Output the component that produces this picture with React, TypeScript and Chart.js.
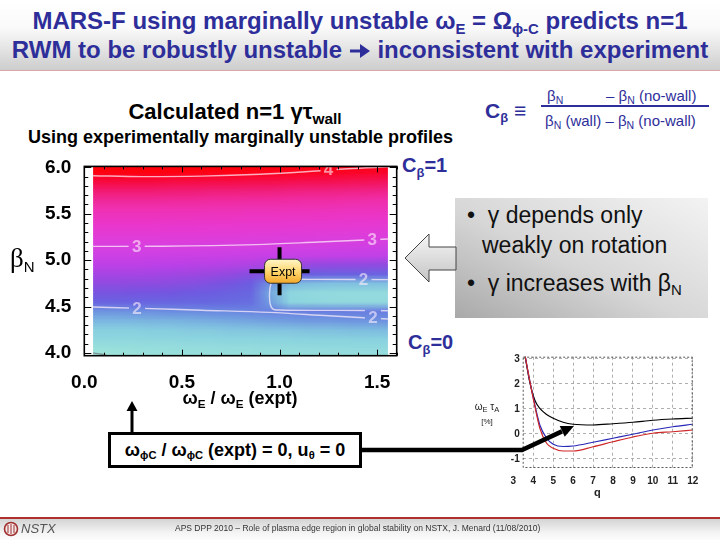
import React, { useEffect, useRef } from "react";
import { Chart, registerables } from "chart.js";

Chart.register(...registerables);

const FONT = '"Liberation Sans", Arial, Helvetica, sans-serif';

// ---------- Heat map: calculated n=1 gamma*tau_wall ----------
const OMEGA_COLS = [0.05, 0.15, 0.25, 0.35, 0.45, 0.55, 0.65, 0.75, 0.85, 0.95, 1.05, 1.15, 1.25, 1.35, 1.45, 1.55];
const BETA_ROWS = [6.05, 5.95, 5.85, 5.75, 5.65, 5.55, 5.45, 5.35, 5.25, 5.15, 5.05, 4.95, 4.85, 4.75, 4.65, 4.55, 4.45, 4.35, 4.25, 4.15, 4.05, 3.95];
const GAMMA_TAU_WALL = [
  [4.35, 4.35, 4.35, 4.34, 4.33, 4.32, 4.31, 4.30, 4.29, 4.27, 4.25, 4.23, 4.21, 4.19, 4.17, 4.15],
  [4.05, 4.05, 4.05, 4.05, 4.04, 4.04, 4.03, 4.03, 4.02, 4.01, 4.00, 3.99, 3.98, 3.97, 3.96, 3.95],
  [3.88, 3.88, 3.88, 3.88, 3.87, 3.87, 3.86, 3.86, 3.85, 3.85, 3.84, 3.83, 3.83, 3.82, 3.81, 3.80],
  [3.74, 3.74, 3.74, 3.74, 3.73, 3.73, 3.72, 3.72, 3.71, 3.71, 3.70, 3.69, 3.69, 3.68, 3.67, 3.66],
  [3.60, 3.60, 3.60, 3.60, 3.59, 3.59, 3.58, 3.58, 3.57, 3.57, 3.56, 3.55, 3.55, 3.54, 3.53, 3.52],
  [3.47, 3.47, 3.47, 3.47, 3.46, 3.46, 3.45, 3.45, 3.44, 3.44, 3.43, 3.43, 3.42, 3.41, 3.41, 3.40],
  [3.36, 3.36, 3.36, 3.36, 3.35, 3.35, 3.34, 3.34, 3.33, 3.33, 3.32, 3.32, 3.31, 3.30, 3.30, 3.29],
  [3.25, 3.25, 3.25, 3.25, 3.24, 3.24, 3.23, 3.23, 3.22, 3.22, 3.21, 3.20, 3.20, 3.19, 3.18, 3.17],
  [3.13, 3.13, 3.13, 3.13, 3.12, 3.12, 3.11, 3.11, 3.10, 3.09, 3.08, 3.08, 3.07, 3.06, 3.05, 3.04],
  [3.00, 3.00, 3.00, 3.00, 2.99, 2.99, 2.98, 2.98, 2.97, 2.96, 2.95, 2.95, 2.94, 2.93, 2.92, 2.91],
  [2.87, 2.87, 2.87, 2.87, 2.86, 2.86, 2.85, 2.84, 2.83, 2.82, 2.81, 2.80, 2.79, 2.78, 2.77, 2.76],
  [2.73, 2.73, 2.73, 2.72, 2.71, 2.70, 2.69, 2.67, 2.64, 2.58, 2.52, 2.49, 2.47, 2.46, 2.45, 2.44],
  [2.59, 2.59, 2.59, 2.58, 2.56, 2.54, 2.51, 2.47, 2.40, 2.28, 2.20, 2.18, 2.17, 2.16, 2.15, 2.15],
  [2.45, 2.45, 2.44, 2.43, 2.41, 2.38, 2.34, 2.28, 2.20, 1.98, 1.88, 1.86, 1.85, 1.85, 1.85, 1.85],
  [2.30, 2.30, 2.29, 2.28, 2.26, 2.23, 2.20, 2.16, 2.12, 1.92, 1.74, 1.72, 1.71, 1.70, 1.70, 1.70],
  [2.15, 2.15, 2.14, 2.13, 2.12, 2.11, 2.10, 2.09, 2.08, 1.95, 1.76, 1.73, 1.72, 1.72, 1.72, 1.72],
  [1.97, 1.97, 1.98, 1.98, 1.99, 1.99, 2.00, 2.00, 2.01, 2.02, 2.02, 2.03, 2.03, 2.03, 2.03, 2.03],
  [1.88, 1.88, 1.88, 1.89, 1.89, 1.90, 1.91, 1.92, 1.93, 1.94, 1.95, 1.96, 1.96, 1.97, 1.97, 1.98],
  [1.80, 1.80, 1.80, 1.81, 1.81, 1.82, 1.82, 1.83, 1.83, 1.84, 1.84, 1.85, 1.85, 1.86, 1.86, 1.87],
  [1.73, 1.73, 1.73, 1.74, 1.74, 1.75, 1.75, 1.76, 1.76, 1.77, 1.77, 1.78, 1.78, 1.78, 1.79, 1.79],
  [1.64, 1.65, 1.66, 1.67, 1.67, 1.68, 1.68, 1.69, 1.69, 1.70, 1.70, 1.70, 1.71, 1.71, 1.71, 1.71],
  [1.52, 1.56, 1.59, 1.61, 1.62, 1.63, 1.63, 1.64, 1.64, 1.65, 1.65, 1.65, 1.66, 1.66, 1.66, 1.66],
];
const DATA_OMEGA_MIN = 0.045;
const DATA_OMEGA_MAX = 1.555;

const CMAP_VALUES = [1.5, 1.65, 1.8, 1.9, 2.0, 2.1, 2.25, 2.5, 2.75, 3.0, 3.25, 3.5, 3.7, 3.9, 4.05, 4.3];
const CMAP_COLORS = ["#a8e8d8", "#98e0dc", "#88d0e0", "#78b0e0", "#6a88e0", "#6868e0", "#7058e0", "#9848e0", "#c040e8", "#d840e0", "#e838d0", "#f030b0", "#f02080", "#f80838", "#ff0010", "#ff0000"];

const CONTOUR_4 = [
  { x: 0.045, y: 5.91 }, { x: 0.3, y: 5.9 }, { x: 0.6, y: 5.905 }, { x: 0.9, y: 5.925 },
  { x: 1.15, y: 5.955 }, { x: 1.35, y: 5.985 }, { x: 1.555, y: 6.005 },
];
const CONTOUR_3 = [
  { x: 0.045, y: 5.148 }, { x: 0.4, y: 5.15 }, { x: 0.88, y: 5.167 }, { x: 1.2, y: 5.195 }, { x: 1.555, y: 5.228 },
];
const CONTOUR_2_MAIN = [
  { x: 0.045, y: 4.495 }, { x: 0.3, y: 4.48 }, { x: 0.6, y: 4.46 }, { x: 0.95, y: 4.437 },
  { x: 1.25, y: 4.4 }, { x: 1.555, y: 4.365 },
];
const CONTOUR_2_POCKET = [
  { x: 1.555, y: 4.79 }, { x: 1.2, y: 4.792 }, { x: 1.0, y: 4.79 }, { x: 0.962, y: 4.768 },
  { x: 0.95, y: 4.68 }, { x: 0.95, y: 4.55 }, { x: 0.965, y: 4.475 }, { x: 1.0, y: 4.462 },
  { x: 1.3, y: 4.458 }, { x: 1.555, y: 4.455 },
];
const CONTOUR_LOW = [{ x: 0.045, y: 4.0 }, { x: 0.09, y: 3.985 }, { x: 0.13, y: 3.96 }];
const CONTOUR_LABEL_X = [1.251, 0.268, 1.475, 0.27, 1.43, 1.478];
const CONTOUR_LABEL_Y = [5.975, 5.147, 5.222, 4.483, 4.79, 4.385];
const CONTOUR_LABEL_TEXT = ["4", "3", "3", "2", "2", "2"];

const EXPT_OMEGA = [1.0];
const EXPT_BETA = [4.88];

const HEAT_X_TICKS = [0, 0.5, 1.0, 1.5];
const HEAT_Y_TICKS = [4.0, 4.5, 5.0, 5.5, 6.0];

// ---------- Inset: omega_E tau_A vs q ----------
const Q_POINTS = [3.55, 3.83, 4.08, 4.33, 4.67, 5.0, 5.5, 6.0, 7, 8, 9, 10, 11, 12];
const W_BLACK = [3.3, 2.05, 1.35, 1.02, 0.78, 0.63, 0.47, 0.39, 0.36, 0.41, 0.47, 0.55, 0.6, 0.63];
const W_BLUE = [3.3, 2.1, 1.16, 0.36, -0.17, -0.41, -0.5, -0.48, -0.33, -0.17, -0.01, 0.16, 0.29, 0.39];
const W_RED = [3.3, 2.1, 1.1, 0.23, -0.37, -0.57, -0.68, -0.68, -0.51, -0.31, -0.12, 0.03, 0.09, 0.16];
const Q_TICKS = [3, 4, 5, 6, 7, 8, 9, 10, 11, 12];
const W_TICKS = [-1, 0, 1, 2, 3];

function hexToRgb(h: string) {
  const n = parseInt(h.slice(1), 16);
  return [(n >> 16) & 255, (n >> 8) & 255, n & 255];
}
function colorFor(v: number): number[] {
  if (v <= CMAP_VALUES[0]) return hexToRgb(CMAP_COLORS[0]);
  for (let i = 1; i < CMAP_VALUES.length; i++) {
    if (v <= CMAP_VALUES[i]) {
      const t = (v - CMAP_VALUES[i - 1]) / (CMAP_VALUES[i] - CMAP_VALUES[i - 1]);
      const a = hexToRgb(CMAP_COLORS[i - 1]);
      const b = hexToRgb(CMAP_COLORS[i]);
      return a.map((c, k) => Math.round(c + (b[k] - c) * t));
    }
  }
  return hexToRgb(CMAP_COLORS[CMAP_COLORS.length - 1]);
}

function paintHeat(chart: any, ctx: CanvasRenderingContext2D, clipX: number, clipY: number, clipW: number, clipH: number) {
  const h = chart.$heat;
  if (!h) return;
  ctx.save();
  ctx.beginPath();
  ctx.rect(h.cx0, h.top, h.cx1 - h.cx0, h.bottom - h.top);
  ctx.clip();
  ctx.beginPath();
  ctx.rect(clipX, clipY, clipW, clipH);
  ctx.clip();
  ctx.imageSmoothingEnabled = true;
  ctx.imageSmoothingQuality = "low";
  ctx.drawImage(h.off, h.x0, h.y0, h.x1 - h.x0, h.y1 - h.y0);
  ctx.restore();
}

const heatmapPlugin = {
  id: "heatmap",
  beforeDatasetsDraw(chart: any) {
    const { ctx, chartArea, scales } = chart;
    const xs = scales.x, ys = scales.y;
    const nx = OMEGA_COLS.length, ny = BETA_ROWS.length;
    const off = document.createElement("canvas");
    off.width = nx; off.height = ny;
    const octx = off.getContext("2d") as CanvasRenderingContext2D;
    const img = octx.createImageData(nx, ny);
    for (let r = 0; r < ny; r++) {
      for (let c = 0; c < nx; c++) {
        const col = colorFor(GAMMA_TAU_WALL[r][c]);
        const i = (r * nx + c) * 4;
        img.data[i] = col[0]; img.data[i + 1] = col[1]; img.data[i + 2] = col[2]; img.data[i + 3] = 255;
      }
    }
    octx.putImageData(img, 0, 0);
    const dx = OMEGA_COLS[1] - OMEGA_COLS[0];
    const dy = BETA_ROWS[0] - BETA_ROWS[1];
    chart.$heat = {
      off,
      x0: xs.getPixelForValue(OMEGA_COLS[0] - dx / 2),
      x1: xs.getPixelForValue(OMEGA_COLS[nx - 1] + dx / 2),
      y0: ys.getPixelForValue(BETA_ROWS[0] + dy / 2),
      y1: ys.getPixelForValue(BETA_ROWS[ny - 1] - dy / 2),
      cx0: xs.getPixelForValue(DATA_OMEGA_MIN),
      cx1: xs.getPixelForValue(DATA_OMEGA_MAX),
      top: chartArea.top,
      bottom: chartArea.bottom,
    };
    paintHeat(chart, ctx, chartArea.left, chartArea.top, chartArea.right - chartArea.left, chartArea.bottom - chartArea.top);
  },
  afterDatasetsDraw(chart: any) {
    const { ctx, chartArea, scales } = chart;
    const xs = scales.x, ys = scales.y;
    ctx.save();
    ctx.font = `bold 17px ${FONT}`;
    ctx.textAlign = "center";
    ctx.textBaseline = "middle";
    CONTOUR_LABEL_X.forEach((lx, i) => {
      const px = xs.getPixelForValue(lx);
      const py = ys.getPixelForValue(CONTOUR_LABEL_Y[i]);
      paintHeat(chart, ctx, px - 8, py - 8, 16, 16);
      ctx.fillStyle = "rgba(255,240,252,0.6)";
      ctx.fillText(CONTOUR_LABEL_TEXT[i], px, py + 1);
    });
    const ex = xs.getPixelForValue(EXPT_OMEGA[0]);
    const ey = ys.getPixelForValue(EXPT_BETA[0]);
    ctx.strokeStyle = "#000";
    ctx.lineWidth = 4;
    ctx.beginPath();
    ctx.moveTo(ex - 30, ey); ctx.lineTo(ex + 30, ey);
    ctx.moveTo(ex, ey - 24); ctx.lineTo(ex, ey + 24);
    ctx.stroke();
    const bw = 37, bh = 24, bx = ex - 15, by = ey - 12, rr = 6;
    const g = ctx.createLinearGradient(0, by, 0, by + bh);
    g.addColorStop(0, "#fff6c8");
    g.addColorStop(0.5, "#ffd870");
    g.addColorStop(1, "#f2a82a");
    ctx.beginPath();
    ctx.moveTo(bx + rr, by);
    ctx.arcTo(bx + bw, by, bx + bw, by + bh, rr);
    ctx.arcTo(bx + bw, by + bh, bx, by + bh, rr);
    ctx.arcTo(bx, by + bh, bx, by, rr);
    ctx.arcTo(bx, by, bx + bw, by, rr);
    ctx.closePath();
    ctx.fillStyle = g;
    ctx.fill();
    ctx.lineWidth = 1;
    ctx.strokeStyle = "#333";
    ctx.stroke();
    ctx.fillStyle = "#000";
    ctx.font = `12.5px ${FONT}`;
    ctx.fillText("Expt", bx + bw / 2, by + bh / 2 + 1);
    ctx.strokeStyle = "#000";
    ctx.lineWidth = 1;
    ctx.beginPath();
    for (let i = 0; i <= 16; i++) {
      const px = Math.round(xs.getPixelForValue(i / 10)) + 0.5;
      const len = i % 5 === 0 ? 6 : 3;
      ctx.moveTo(px, chartArea.bottom); ctx.lineTo(px, chartArea.bottom - len);
      ctx.moveTo(px, chartArea.top); ctx.lineTo(px, chartArea.top + len);
    }
    for (let i = 40; i <= 60; i++) {
      const py = Math.round(ys.getPixelForValue(i / 10)) + 0.5;
      const len = i % 5 === 0 ? 7 : 4;
      ctx.moveTo(chartArea.left, py); ctx.lineTo(chartArea.left + len, py);
      ctx.moveTo(chartArea.right, py); ctx.lineTo(chartArea.right - len, py);
    }
    ctx.stroke();
    ctx.lineWidth = 1.6;
    ctx.strokeRect(chartArea.left, chartArea.top, chartArea.right - chartArea.left, chartArea.bottom - chartArea.top);
    ctx.restore();
  },
};

const insetPlugin = {
  id: "insetDecor",
  afterDraw(chart: any) {
    const { ctx, chartArea, scales } = chart;
    const xs = scales.x;
    ctx.save();
    ctx.setLineDash([2, 2]);
    ctx.strokeStyle = "#555";
    ctx.lineWidth = 1;
    ctx.strokeRect(chartArea.left + 0.5, chartArea.top + 0.5, chartArea.right - chartArea.left - 1, chartArea.bottom - chartArea.top - 1);
    ctx.setLineDash([]);
    ctx.fillStyle = "#222";
    ctx.font = `bold 10px ${FONT}`;
    ctx.textAlign = "center";
    ctx.textBaseline = "middle";
    Q_TICKS.forEach((q) => {
      ctx.fillText(String(q), xs.getPixelForValue(q), chartArea.bottom + 13);
    });
    ctx.restore();
  },
};

const Sub = ({ children, size = "0.62em", top = "0.32em" }: any) => (
  <span style={{ fontSize: size, position: "relative", top, lineHeight: 0 }}>{children}</span>
);

export default function App() {
  const heatRef = useRef<HTMLCanvasElement>(null);
  const insetRef = useRef<HTMLCanvasElement>(null);

  useEffect(() => {
    const contourStyle = {
      showLine: true,
      pointRadius: 0,
      borderColor: "rgba(255,240,250,0.72)",
      borderWidth: 1.4,
      fill: false,
    };
    const heat = new Chart(heatRef.current as HTMLCanvasElement, {
      type: "scatter",
      data: {
        datasets: [
          { data: CONTOUR_4, ...contourStyle, cubicInterpolationMode: "monotone" },
          { data: CONTOUR_3, ...contourStyle, cubicInterpolationMode: "monotone" },
          { data: CONTOUR_2_MAIN, ...contourStyle, cubicInterpolationMode: "monotone" },
          { data: CONTOUR_2_POCKET, ...contourStyle, tension: 0.3 },
          { data: CONTOUR_LOW, ...contourStyle, borderColor: "rgba(110,130,130,0.8)", tension: 0.3 },
        ] as any,
      },
      options: {
        animation: false,
        responsive: false,
        events: [],
        layout: { padding: { left: 0, right: 23.3, top: 12.5, bottom: 0 } },
        plugins: { legend: { display: false }, tooltip: { enabled: false } },
        scales: {
          x: {
            type: "linear",
            min: 0,
            max: 1.6,
            afterBuildTicks: (s: any) => { s.ticks = HEAT_X_TICKS.map((v) => ({ value: v })); },
            afterFit: (s: any) => { s.height = 64.3; },
            grid: { display: false },
            border: { display: false },
            ticks: {
              color: "#000",
              padding: 8,
              maxRotation: 0,
              autoSkip: false,
              font: { family: FONT, size: 19, weight: "bold" },
              callback: (v: any) => Number(v).toFixed(1),
            },
          },
          y: {
            type: "linear",
            min: 3.97,
            max: 6.01,
            afterBuildTicks: (s: any) => { s.ticks = HEAT_Y_TICKS.map((v) => ({ value: v })); },
            afterFit: (s: any) => { s.width = 84.3; },
            grid: { display: false },
            border: { display: false },
            ticks: {
              color: "#000",
              padding: 5,
              autoSkip: false,
              font: { family: FONT, size: 19, weight: "bold" },
              callback: (v: any) => Number(v).toFixed(1),
            },
          },
        },
      } as any,
      plugins: [heatmapPlugin],
    });

    const lineStyle = { showLine: true, pointRadius: 0, borderWidth: 1.2, fill: false, cubicInterpolationMode: "monotone" };
    const inset = new Chart(insetRef.current as HTMLCanvasElement, {
      type: "scatter",
      data: {
        datasets: [
          { data: Q_POINTS.map((q, i) => ({ x: q, y: W_RED[i] })), borderColor: "#d02828", ...lineStyle },
          { data: Q_POINTS.map((q, i) => ({ x: q, y: W_BLUE[i] })), borderColor: "#2828b8", ...lineStyle },
          { data: Q_POINTS.map((q, i) => ({ x: q, y: W_BLACK[i] })), borderColor: "#000000", ...lineStyle },
        ] as any,
      },
      options: {
        animation: false,
        responsive: false,
        events: [],
        layout: { padding: { left: 0, right: 17.3, top: 11.7, bottom: 0 } },
        plugins: { legend: { display: false }, tooltip: { enabled: false } },
        scales: {
          x: {
            type: "linear",
            min: 3.47,
            max: 12,
            afterBuildTicks: (s: any) => { s.ticks = Q_TICKS.filter((q) => q > 3.47).map((v) => ({ value: v })); },
            afterFit: (s: any) => { s.height = 37; },
            grid: { color: "#9a9a9a", lineWidth: 0.8, drawTicks: false },
            border: { display: false, dash: [3, 3] },
            ticks: { display: false },
          },
          y: {
            type: "linear",
            min: -1.36,
            max: 3.09,
            afterBuildTicks: (s: any) => { s.ticks = W_TICKS.map((v) => ({ value: v })); },
            afterFit: (s: any) => { s.width = 52.7; },
            grid: { color: "#9a9a9a", lineWidth: 0.8, drawTicks: false },
            border: { display: false, dash: [3, 3] },
            ticks: {
              color: "#222",
              padding: 3,
              autoSkip: false,
              font: { family: FONT, size: 10, weight: "bold" },
              callback: (v: any) => String(v),
            },
          },
        },
      } as any,
      plugins: [insetPlugin],
    });

    return () => {
      heat.destroy();
      inset.destroy();
    };
  }, []);

  const blue = "#2e2e9a";
  const abs = (l: number, t: number, extra: any = {}) => ({ position: "absolute" as const, left: l, top: t, whiteSpace: "nowrap" as const, ...extra });

  return (
    <div style={{ position: "fixed", left: 0, top: 0, width: 720, height: 540, overflow: "hidden", background: "#fff", fontFamily: FONT, color: "#000" }}>
      {/* Title bar */}
      <div style={abs(0, 0, { width: 720, height: 70, background: "linear-gradient(#ffffff 0%, #fafafa 40%, #cdcdcd 100%)", borderBottom: "1px solid #d8a8a8" })} />
      <div style={abs(0, 6, { width: 720, textAlign: "center", fontSize: 24, fontWeight: "bold", color: blue, lineHeight: "29px" })}>
        <div>MARS-F using marginally unstable ω<Sub>E</Sub> = Ω<Sub>ϕ-C</Sub> predicts n=1</div>
        <div>
          RWM to be robustly unstable{" "}
          <svg width={22} height={16} viewBox="0 0 22 16" style={{ verticalAlign: "-1px" }}>
            <path d="M1,8 L13,8" stroke={blue} strokeWidth={3} />
            <path d="M11,1 L21,8 L11,15 Z" fill={blue} />
          </svg>{" "}
          inconsistent with experiment
        </div>
      </div>

      {/* Headings */}
      <div style={abs(0, 101, { width: 470, textAlign: "center", fontSize: 22, fontWeight: "bold", lineHeight: "22px" })}>
        Calculated n=1 γτ<Sub size="0.7em" top="0.3em">wall</Sub>
      </div>
      <div style={abs(28, 128, { fontSize: 18, fontWeight: "bold", lineHeight: "18px" })}>
        Using experimentally marginally unstable profiles
      </div>

      {/* C_beta definition */}
      <div style={abs(485, 100, { fontSize: 21, fontWeight: "bold", color: blue, lineHeight: "21px" })}>
        C<Sub size="0.62em" top="0.3em">β</Sub> ≡
      </div>
      <div style={abs(547, 88, { fontSize: 15, color: blue, lineHeight: "15px" })}>
        β<Sub size="0.7em" top="0.25em">N</Sub>
      </div>
      <div style={abs(606, 88, { fontSize: 15, color: blue, lineHeight: "15px" })}>
        – β<Sub size="0.7em" top="0.25em">N</Sub> (no-wall)
      </div>
      <div style={abs(541, 105, { width: 168, height: 2, background: blue })} />
      <div style={abs(545, 113, { fontSize: 15, color: blue, lineHeight: "15px" })}>
        β<Sub size="0.7em" top="0.25em">N</Sub> (wall) – β<Sub size="0.7em" top="0.25em">N</Sub> (no-wall)
      </div>

      <div style={abs(402, 155, { fontSize: 20, fontWeight: "bold", color: blue, lineHeight: "20px" })}>
        C<Sub size="0.65em" top="0.35em">β</Sub>=1
      </div>
      <div style={abs(408, 332, { fontSize: 20, fontWeight: "bold", color: blue, lineHeight: "20px" })}>
        C<Sub size="0.65em" top="0.35em">β</Sub>=0
      </div>

      {/* Heat map */}
      <canvas ref={heatRef} width={420} height={270} style={{ position: "absolute", left: 0, top: 150, width: 420, height: 270 }} />
      <div style={abs(10, 245, { fontSize: 27, fontFamily: '"Liberation Serif", "DejaVu Serif", serif', lineHeight: "27px" })}>
        β<span style={{ fontFamily: FONT, fontSize: 15, position: "relative", top: 5 }}>N</span>
      </div>
      <div style={abs(0, 389, { width: 480, textAlign: "center", fontSize: 18, fontWeight: "bold", lineHeight: "18px" })}>
        ω<Sub size="0.65em" top="0.3em">E</Sub> / ω<Sub size="0.65em" top="0.3em">E</Sub> (expt)
      </div>

      {/* Bullet box */}
      <div style={abs(455, 198, { width: 253, height: 120, background: "linear-gradient(to top right, #a9a9a9 0%, #d6d6d6 45%, #f3f3f3 100%)" })} />
      <div style={abs(467, 204, { fontSize: 23, lineHeight: "23px", color: "#111" })}>•&nbsp;&nbsp;γ depends only</div>
      <div style={abs(482, 234, { fontSize: 23, lineHeight: "23px", color: "#111" })}>weakly on rotation</div>
      <div style={abs(467, 272, { fontSize: 23, lineHeight: "23px", color: "#111" })}>
        •&nbsp;&nbsp;γ increases with β<Sub size="0.65em" top="0.3em">N</Sub>
      </div>

      {/* Inset chart */}
      <canvas ref={insetRef} width={240} height={160} style={{ position: "absolute", left: 470, top: 345, width: 240, height: 160 }} />
      <div style={abs(466, 402, { fontSize: 10, lineHeight: "10px", color: "#222", width: 42, textAlign: "center" })}>
        ω<Sub size="0.75em" top="0.25em">E</Sub> τ<Sub size="0.75em" top="0.25em">A</Sub>
        <div style={{ fontSize: 8, marginTop: 5 }}>[%]</div>
      </div>
      <div style={abs(594, 487, { fontSize: 11, fontWeight: "bold", lineHeight: "11px", color: "#222" })}>q</div>

      {/* Bottom box */}
      <div style={abs(108, 432, { width: 254, height: 36, border: "3px solid #000", boxSizing: "border-box", background: "#fff", display: "flex", alignItems: "center", justifyContent: "center", fontSize: 18, fontWeight: "bold", lineHeight: "18px" })}>
        <span>
          ω<Sub size="0.62em" top="0.3em">ϕC</Sub> / ω<Sub size="0.62em" top="0.3em">ϕC</Sub> (expt) = 0, u<Sub size="0.62em" top="0.3em">θ</Sub> = 0
        </span>
      </div>

      {/* Arrows */}
      <svg width={720} height={540} style={{ position: "absolute", left: 0, top: 0, pointerEvents: "none" }}>
        <defs>
          <linearGradient id="ga" x1="0" y1="0" x2="0" y2="1">
            <stop offset="0" stopColor="#f6f6f6" />
            <stop offset="1" stopColor="#c4c4c4" />
          </linearGradient>
        </defs>
        <polygon points="405,258 429,234 429,247 456,247 456,270 429,270 429,282" fill="url(#ga)" stroke="#444" strokeWidth={1} />
        <polyline points="362,450 522,450 562,431.4" fill="none" stroke="#000" strokeWidth={4.5} strokeLinejoin="miter" />
        <polygon points="574,426 564.7,436.8 559.7,426" fill="#000" />
        <line x1={132} y1={432} x2={132} y2={410} stroke="#000" strokeWidth={3} />
        <polygon points="132,401 126.5,411 137.5,411" fill="#000" />
      </svg>

      {/* Footer */}
      <div style={abs(0, 517, { width: 720, height: 23, background: "linear-gradient(#d4d4d4 0%, #f4f4f4 60%, #ffffff 100%)", borderTop: "2px solid #b03030" })} />
      <svg width={18} height={18} style={{ position: "absolute", left: 2, top: 520 }}>
        <circle cx={9} cy={9} r={6.5} fill="#f4e8e8" stroke="#a03030" strokeWidth={1.6} />
        <path d="M6,5 L6,13 M9,4 L9,14 M12,5 L12,13" stroke="#a03030" strokeWidth={1} />
      </svg>
      <div style={abs(21, 522, { fontSize: 13, fontStyle: "italic", color: "#555", lineHeight: "13px" })}>NSTX</div>
      <div style={abs(175, 524, { fontSize: 8.5, color: "#333", lineHeight: "9px" })}>
        APS DPP 2010 – Role of plasma edge region in global stability on NSTX,  J. Menard  (11/08/2010)
      </div>
    </div>
  );
}
